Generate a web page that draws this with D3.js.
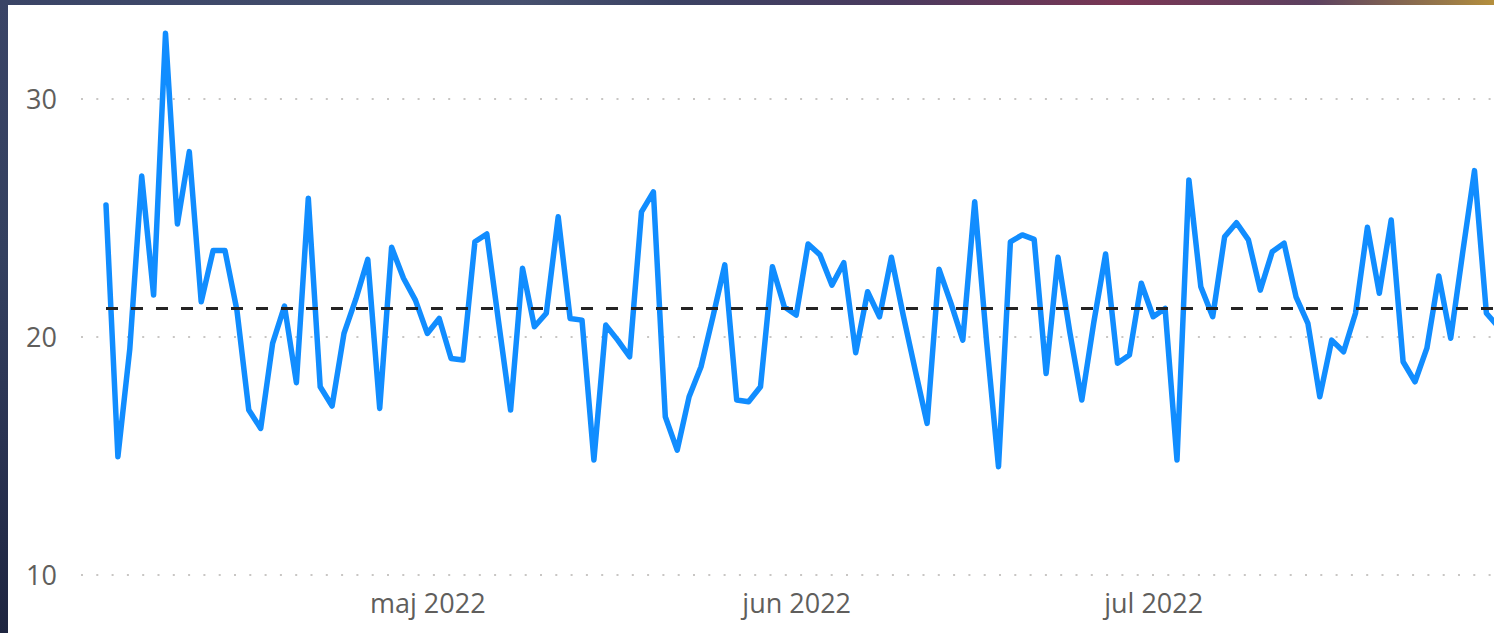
<!DOCTYPE html>
<meta charset="utf-8">
<script src="https://d3js.org/d3.v7.min.js"></script>
<style>
  html, body { margin: 0; padding: 0; background: #2c3554; overflow: hidden; }
  svg { display: block; }
</style>
<div id="my_dataviz"></div>
<script>

    // daily values, starting 2022-04-04 (one point per day)
    const startDate = "2022-04-04";
    const values = [
        25.55, 14.97, 19.5, 26.76, 21.76, 32.76, 24.75, 27.79, 21.48, 23.63,
        23.63, 21.13, 16.93, 16.16, 19.73, 21.3, 18.08, 25.83, 17.91, 17.1,
        20.15, 21.6, 23.26, 17.0, 23.77, 22.47, 21.55, 20.15, 20.78, 19.1,
        19.03, 24.0, 24.33, 20.6, 16.93, 22.89, 20.43, 21.0, 25.05, 20.78,
        20.71, 14.83, 20.5, 19.87, 19.17, 25.26, 26.1, 16.65, 15.25, 17.49,
        18.75, 20.85, 23.03, 17.35, 17.28, 17.91, 22.95, 21.27, 20.92, 23.91,
        23.45, 22.18, 23.12, 19.34, 21.9, 20.85, 23.35, 20.9, 18.61, 16.37,
        22.85, 21.42, 19.87, 25.68, 19.8, 14.55, 24.0, 24.29, 24.1, 18.47,
        23.35, 20.18, 17.35, 20.59, 23.49, 18.9, 19.24, 22.26, 20.85, 21.2,
        14.83, 26.6, 22.11, 20.85, 24.21, 24.8, 24.08, 21.97, 23.58, 23.94,
        21.69, 20.57, 17.49, 19.87, 19.38, 21.0, 24.61, 21.84, 24.92, 18.96,
        18.12, 19.53, 22.56, 19.95, 23.52, 26.99, 21.0, 20.43
    ];

    // average reference line
    const averageValue = 21.2;

    // axis ticks
    const yTicks = [10, 20, 30];
    const xTickDates = ["2022-05-01", "2022-06-01", "2022-07-01"];
    const xTickLabels = ["maj 2022", "jun 2022", "jul 2022"];

    const W = 1494, H = 633;
    const panel = { left: 8, top: 5 };
    const plot = { left: 106, dayWidth: 11.9, top: 99, bottom: 575, gridStart: 81 };

    const parse = d3.timeParse("%Y-%m-%d");
    const start = parse(startDate);
    const data = values.map(function (v, i) { return { date: d3.timeDay.offset(start, i), value: v }; });

    const svg = d3.select("#my_dataviz")
        .append("svg")
        .attr("width", W)
        .attr("height", H);

    // dark background frame
    const defs = svg.append("defs");
    const topGrad = defs.append("linearGradient").attr("id", "topGrad");
    [["0%", "#3a4466"], ["35%", "#46506e"], ["45%", "#3b4263"], ["60%", "#4a3a5e"],
     ["75%", "#7a3654"], ["88%", "#5c4160"], ["97%", "#9a7a48"], ["100%", "#b58f3c"]]
        .forEach(function (s) { topGrad.append("stop").attr("offset", s[0]).attr("stop-color", s[1]); });
    const leftGrad = defs.append("linearGradient").attr("id", "leftGrad")
        .attr("x1", 0).attr("y1", 0).attr("x2", 0).attr("y2", 1);
    [["0%", "#3a4466"], ["40%", "#34405f"], ["70%", "#2a3352"], ["100%", "#1e2540"]]
        .forEach(function (s) { leftGrad.append("stop").attr("offset", s[0]).attr("stop-color", s[1]); });

    svg.append("rect").attr("x", 0).attr("y", 0).attr("width", W).attr("height", H).attr("fill", "url(#leftGrad)");
    svg.append("rect").attr("x", 0).attr("y", 0).attr("width", W).attr("height", panel.top).attr("fill", "url(#topGrad)");
    svg.append("rect")
        .attr("x", panel.left).attr("y", panel.top)
        .attr("width", W - panel.left).attr("height", H - panel.top)
        .attr("fill", "#ffffff");

    // scales
    const lastDate = d3.timeDay.offset(start, values.length - 1);
    const x = d3.scaleTime()
        .domain([start, lastDate])
        .range([plot.left, plot.left + (values.length - 1) * plot.dayWidth]);
    const y = d3.scaleLinear()
        .domain([10, 30])
        .range([plot.bottom, plot.top]);

    // dotted gridlines
    svg.append("g")
        .selectAll("line")
        .data(yTicks)
        .join("line")
        .attr("x1", plot.gridStart)
        .attr("x2", W)
        .attr("y1", function (d) { return y(d); })
        .attr("y2", function (d) { return y(d); })
        .attr("stroke", "#c8c6c4")
        .attr("stroke-width", 2)
        .attr("stroke-dasharray", "2,13.3");

    // y axis labels
    const yAxis = svg.append("g")
        .attr("transform", `translate(${plot.gridStart - 24}, 0)`)
        .call(d3.axisLeft(y).tickValues(yTicks).tickSize(0).tickPadding(0));
    yAxis.select(".domain").remove();
    yAxis.selectAll("text")
        .attr("fill", "#605e5c")
        .attr("font-family", "Open Sans, sans-serif")
        .attr("font-size", "27px")
        .attr("dy", "0.36em");

    // x axis labels
    const xAxis = svg.append("g")
        .attr("transform", `translate(0, ${plot.bottom})`)
        .call(d3.axisBottom(x)
            .tickValues(xTickDates.map(parse))
            .tickFormat(function (d, i) { return xTickLabels[i]; })
            .tickSize(0)
            .tickPadding(19));
    xAxis.select(".domain").remove();
    xAxis.selectAll("text")
        .attr("fill", "#605e5c")
        .attr("font-family", "Open Sans, sans-serif")
        .attr("font-size", "27px");

    // the line
    svg.append("path")
        .datum(data)
        .attr("fill", "none")
        .attr("stroke", "#118dff")
        .attr("stroke-width", 5.5)
        .attr("stroke-linejoin", "round")
        .attr("stroke-linecap", "round")
        .attr("d", d3.line()
            .x(function (d) { return x(d.date); })
            .y(function (d) { return y(d.value); })
        );

    // average line
    svg.append("line")
        .attr("x1", x(start))
        .attr("x2", x(lastDate))
        .attr("y1", y(averageValue))
        .attr("y2", y(averageValue))
        .attr("stroke", "#252423")
        .attr("stroke-width", 3)
        .attr("stroke-dasharray", "12,13");

</script>
